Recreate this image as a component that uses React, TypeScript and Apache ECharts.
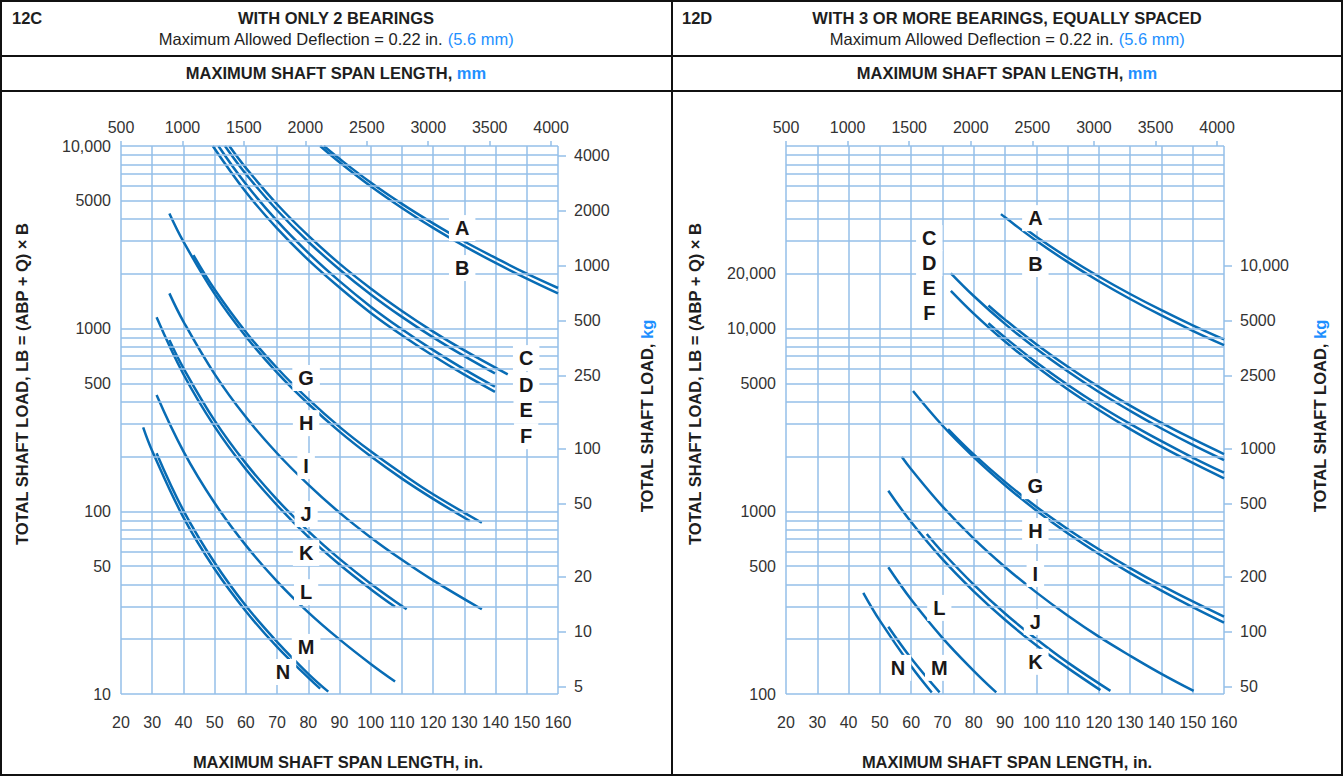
import React, { useEffect, useRef } from 'react';
import * as echarts from 'echarts';

// ---------- tick labels ----------
const MM_TICKS = [500, 1000, 1500, 2000, 2500, 3000, 3500, 4000];
const LB_LABELS_12C = [10, 50, 100, 500, 1000, 5000, 10000];
const KG_LABELS_12C = [5, 10, 20, 50, 100, 250, 500, 1000, 2000, 4000];
const LB_LABELS_12D = [100, 500, 1000, 5000, 10000, 20000];
const KG_LABELS_12D = [50, 100, 200, 500, 1000, 2500, 5000, 10000];

// ---------- 12C curves: [span in., total shaft load lb] ----------
const C12_A = [[85, 10000], [90, 8510], [100, 6310], [110, 4820], [120, 3770], [130, 3000], [140, 2440], [150, 2000], [160, 1670]];
const C12_B = [[83.8, 10000], [90, 8150], [100, 6020], [110, 4580], [120, 3560], [130, 2830], [140, 2290], [150, 1880], [160, 1560]];
const C12_C = [[54.7, 10000], [60, 7590], [70, 4800], [80, 3230], [90, 2270], [100, 1660], [110, 1250], [120, 964], [130, 760], [143.9, 562]];
const C12_D = [[53.3, 10000], [60, 7030], [70, 4450], [80, 2990], [90, 2110], [100, 1540], [110, 1160], [120, 896], [130, 707], [139.8, 569]];
const C12_E = [[51.2, 10000], [60, 6190], [70, 3890], [80, 2600], [90, 1820], [100, 1320], [110, 992], [120, 763], [130, 599], [139.8, 481]];
const C12_F = [[49.4, 10000], [60, 5600], [70, 3540], [80, 2380], [90, 1680], [100, 1220], [110, 921], [120, 711], [130, 560], [139.8, 451]];
const C12_G = [[43.2, 2528], [50, 1640], [60, 959], [70, 609], [80, 411], [90, 290], [100, 213], [110, 161], [120, 124], [135.6, 86.6]];
const C12_H = [[35.5, 4276], [40, 3000], [50, 1550], [60, 906], [70, 575], [80, 388], [90, 273], [100, 200], [110, 151], [120, 117], [131.8, 88.5]];
const C12_I = [[35.5, 1560], [40, 1094], [50, 564], [60, 328], [70, 208], [80, 140], [90, 98.4], [100, 72], [110, 54.3], [120, 41.9], [135.6, 29.1]];
const C12_J = [[31.4, 1153], [40, 563], [50, 291], [60, 170], [70, 108], [80, 72.5], [90, 51.2], [100, 37.5], [107.8, 30]];
const C12_K = [[35.5, 866], [40, 608], [50, 314], [60, 183], [70, 116], [80, 77.9], [90, 54.9], [100, 40.2], [111.5, 29.1]];
const C12_L = [[31.4, 433], [40, 213], [50, 111], [60, 65.1], [70, 41.4], [80, 28], [90, 19.9], [100, 14.6], [107.8, 11.7]];
const C12_M = [[31.4, 208], [40, 101], [50, 52.3], [60, 30.4], [70, 19.3], [80, 12.9], [86.4, 10.3]];
const C12_N = [[27.1, 288], [30, 214], [40, 92.6], [50, 48.3], [60, 28.4], [70, 18.1], [80, 12.3], [83.8, 10.7]];

// ---------- 12D curves ----------
const D12_A = [[96.6, 35080], [100, 31890], [110, 24530], [120, 19300], [130, 15480], [140, 12620], [150, 10430], [160, 8738]];
const D12_B = [[88.7, 42360], [90, 40680], [100, 30290], [110, 23200], [120, 18190], [130, 14540], [140, 11810], [150, 9740], [160, 8128]];
const D12_C = [[84.7, 13400], [90, 11210], [100, 8220], [110, 6210], [120, 4800], [130, 3790], [140, 3050], [150, 2490], [160, 2059]];
const D12_D = [[72.7, 20080], [80, 15090], [90, 10620], [100, 7760], [110, 5840], [120, 4500], [130, 3550], [140, 2840], [150, 2310], [160, 1909]];
const D12_E = [[84.7, 10700], [90, 8940], [100, 6540], [110, 4930], [120, 3810], [130, 3010], [140, 2420], [150, 1970], [160, 1627]];
const D12_F = [[72.7, 16120], [80, 12100], [90, 8500], [100, 6200], [110, 4660], [120, 3590], [130, 2820], [140, 2260], [150, 1840], [160, 1516]];
const D12_G = [[71.8, 2822], [80, 2050], [90, 1450], [100, 1060], [110, 801], [120, 620], [130, 489], [140, 393], [150, 321], [160, 265]];
const D12_H = [[60.6, 4556], [70, 2950], [80, 1980], [90, 1390], [100, 1011], [110, 759], [120, 584], [130, 459], [140, 368], [150, 299], [160, 246]];
const D12_I = [[57, 1990], [60, 1700], [70, 1065], [80, 709], [90, 496], [100, 360], [110, 269], [120, 206], [130, 162], [140, 129], [150.3, 104]];
const D12_J = [[52.7, 1297], [60, 874], [70, 547], [80, 365], [90, 255], [100, 185], [110, 139], [120.5, 105]];
const D12_K = [[65, 751], [70, 598], [80, 397], [90, 276], [100, 200], [110, 149], [123.7, 104]];
const D12_L = [[52.7, 494], [60, 329], [70, 203], [80, 134], [87.2, 102]];
const D12_M = [[52.7, 233.6], [60, 157], [69.1, 102]];
const D12_N = [[44.7, 358], [50, 252], [60, 142], [66.6, 102]];

// ---------- curve letters: [letter, span in., load lb] ----------
const LABELS_12C = [
  ['A', 129.3, 3554], ['B', 129.3, 2147],
  ['C', 149.8, 690], ['D', 149.8, 491], ['E', 149.8, 358], ['F', 149.8, 258],
  ['G', 79.3, 537], ['H', 79.3, 304], ['I', 79.3, 177], ['J', 79.3, 96.6],
  ['K', 79.3, 59.2], ['L', 79.3, 36.1], ['M', 79.3, 18.1], ['N', 71.9, 13.2],
];
const LABELS_12D = [
  ['A', 99.7, 40270], ['B', 99.7, 22590],
  ['C', 65.8, 31330], ['D', 65.8, 22860], ['E', 65.8, 16670], ['F', 65.8, 12160],
  ['G', 99.7, 1374], ['H', 99.7, 780], ['I', 99.7, 454], ['J', 99.7, 248], ['K', 99.7, 150],
  ['L', 69, 296], ['M', 69, 139], ['N', 55.8, 139],
];

const CURVES_12C = [C12_A, C12_B, C12_C, C12_D, C12_E, C12_F, C12_G, C12_H, C12_I, C12_J, C12_K, C12_L, C12_M, C12_N];
const CURVES_12D = [D12_A, D12_B, D12_C, D12_D, D12_E, D12_F, D12_G, D12_H, D12_I, D12_J, D12_K, D12_L, D12_M, D12_N];

// ---------- styles ----------
const FONT = '"Liberation Sans", Arial, Helvetica, sans-serif';
const GRID_COLOR = '#95bfe8';
const CURVE_COLOR = '#086cb5';
const TEXT = '#1e1e1e';
const TICK_TEXT = '#333333';
const BLUE = '#1e90ff';
const KG_PER_LB = 0.45359237;

const lg = (v: number) => Math.log10(v);
const fmt = (v: number) => {
  const n = Math.round(Math.pow(10, v));
  return n >= 10000 ? String(n).replace(/\B(?=(\d{3})+(?!\d))/g, ',') : String(n);
};
const logGrid = (lo: number, hi: number) => {
  const out: number[] = [];
  for (let d = lo; d < hi; d *= 10) for (let k = 1; k < 10; k++) out.push(k * d);
  out.push(hi);
  return out;
};

function buildPanel(i: number, lbMin: number, lbMax: number, lbLabels: number[], kgLabels: number[], curves: number[][][], labels: any[]) {
  const xAxes = [
    {
      gridIndex: i, type: 'value', position: 'bottom', min: 20, max: 160, interval: 10,
      axisLine: { show: false }, axisTick: { show: false },
      axisLabel: { color: TICK_TEXT, fontSize: 16, fontFamily: FONT, margin: 20, formatter: (v: number) => String(v) },
      splitLine: { show: true, lineStyle: { color: GRID_COLOR, width: 1.5 } },
    },
    {
      gridIndex: i, type: 'value', position: 'top', min: 500, max: 500 + 140 * 25.4,
      axisLine: { show: false },
      axisTick: { show: true, customValues: MM_TICKS, length: 5, lineStyle: { color: GRID_COLOR, width: 1.5 } },
      axisLabel: { customValues: MM_TICKS, color: TICK_TEXT, fontSize: 16, fontFamily: FONT, margin: 11, formatter: (v: number) => String(Math.round(v)) },
      splitLine: { show: false },
    },
  ];
  const kgCustom = kgLabels.map(lg);
  const yAxes = [
    {
      gridIndex: i, type: 'value', position: 'left', min: lg(lbMin), max: lg(lbMax),
      axisLine: { show: false }, axisTick: { show: false }, splitLine: { show: false },
      axisLabel: { customValues: lbLabels.map(lg), formatter: fmt, color: TICK_TEXT, fontSize: 16, fontFamily: FONT, margin: 10 },
    },
    {
      gridIndex: i, type: 'value', position: 'right', min: lg(lbMin * KG_PER_LB), max: lg(lbMax * KG_PER_LB),
      axisLine: { show: false }, splitLine: { show: false },
      axisTick: { show: true, customValues: kgCustom, length: 8, lineStyle: { color: GRID_COLOR, width: 1.5 } },
      axisLabel: { customValues: kgCustom, formatter: fmt, color: TICK_TEXT, fontSize: 16, fontFamily: FONT, margin: 16 },
    },
  ];
  const xi = 2 * i, yi = 2 * i;
  const series: any[] = [
    {
      type: 'line', xAxisIndex: xi, yAxisIndex: yi, z: 1, silent: true,
      data: [[20, lg(lbMin)]], showSymbol: false, symbol: 'none', lineStyle: { width: 0 },
      markLine: {
        silent: true, symbol: ['none', 'none'], label: { show: false },
        lineStyle: { color: GRID_COLOR, width: 1.5, type: 'solid' },
        data: logGrid(lbMin, lbMax).map((v) => ({ yAxis: lg(v) })),
      },
    },
    ...curves.map((c) => ({
      type: 'line', xAxisIndex: xi, yAxisIndex: yi, z: 3, silent: true,
      smooth: 0.4, showSymbol: false, symbol: 'none',
      lineStyle: { color: CURVE_COLOR, width: 2.5 },
      data: c.map(([x, lb]) => [x, lg(lb)]),
    })),
    {
      type: 'scatter', xAxisIndex: xi, yAxisIndex: yi, z: 5, silent: true,
      symbolSize: 0, itemStyle: { color: 'transparent', opacity: 1 },
      data: labels.map(([t, x, lb]) => ({ name: t, value: [x, lg(lb)] })),
      label: {
        show: true, position: 'inside', formatter: '{b}', color: '#1a1718', fontSize: 20, opacity: 1,
        fontWeight: 'bold', fontFamily: FONT, backgroundColor: '#ffffff', padding: [3, 6],
      },
    },
  ];
  return { xAxes, yAxes, series };
}

function txt(x: number, y: number, text: string, opts: any = {}) {
  return {
    type: 'text', x, y, rotation: opts.rotation || 0, z: 20,
    style: {
      text, fill: TEXT, fontSize: opts.size || 16.5, fontWeight: opts.bold ? 'bold' : 'normal',
      fontFamily: FONT, align: opts.align || 'center', verticalAlign: 'middle',
      rich: opts.rich,
    },
  };
}

function richBlue(size: number, bold: boolean) {
  const base = { fontSize: size, fontWeight: bold ? 'bold' : 'normal', fontFamily: FONT };
  return { a: { ...base, fill: TEXT }, b: { ...base, fill: BLUE } };
}

function buildOption() {
  const p0 = buildPanel(0, 10, 10000, LB_LABELS_12C, KG_LABELS_12C, CURVES_12C, LABELS_12C);
  const p1 = buildPanel(1, 100, 100000, LB_LABELS_12D, KG_LABELS_12D, CURVES_12D, LABELS_12D);
  const frame = { stroke: '#111', lineWidth: 2 };
  const graphic: any[] = [
    { type: 'rect', z: 20, shape: { x: 1, y: 1, width: 1341, height: 774 }, style: { fill: 'none', ...frame } },
    { type: 'line', z: 20, shape: { x1: 672, y1: 0, x2: 672, y2: 776 }, style: frame },
    { type: 'line', z: 20, shape: { x1: 0, y1: 56, x2: 1343, y2: 56 }, style: frame },
    { type: 'line', z: 20, shape: { x1: 0, y1: 91, x2: 1343, y2: 91 }, style: frame },
    txt(12, 18, '12C', { bold: true, align: 'left' }),
    txt(336, 18, 'WITH ONLY 2 BEARINGS', { bold: true }),
    txt(336, 39, '{a|Maximum Allowed Deflection = 0.22 in. }{b|(5.6 mm)}', { rich: richBlue(16.5, false) }),
    txt(336, 73, '{a|MAXIMUM SHAFT SPAN LENGTH, }{b|mm}', { rich: richBlue(16.5, true) }),
    txt(682, 18, '12D', { bold: true, align: 'left' }),
    txt(1007, 18, 'WITH 3 OR MORE BEARINGS, EQUALLY SPACED', { bold: true }),
    txt(1007, 39, '{a|Maximum Allowed Deflection = 0.22 in. }{b|(5.6 mm)}', { rich: richBlue(16.5, false) }),
    txt(1007, 73, '{a|MAXIMUM SHAFT SPAN LENGTH, }{b|mm}', { rich: richBlue(16.5, true) }),
    txt(338, 762, 'MAXIMUM SHAFT SPAN LENGTH, in.', { bold: true }),
    txt(1007, 762, 'MAXIMUM SHAFT SPAN LENGTH, in.', { bold: true }),
    txt(22, 384, 'TOTAL SHAFT LOAD, LB = (ABP + Q) × B', { bold: true, rotation: Math.PI / 2 }),
    txt(695, 384, 'TOTAL SHAFT LOAD, LB = (ABP + Q) × B', { bold: true, rotation: Math.PI / 2 }),
    txt(647, 416, '{a|TOTAL SHAFT LOAD, }{b|kg}', { rotation: Math.PI / 2, rich: richBlue(16.5, true) }),
    txt(1320, 416, '{a|TOTAL SHAFT LOAD, }{b|kg}', { rotation: Math.PI / 2, rich: richBlue(16.5, true) }),
  ];
  return {
    animation: false,
    backgroundColor: '#ffffff',
    grid: [
      { left: 121, top: 146, width: 437, height: 548 },
      { left: 786, top: 146, width: 438, height: 548 },
    ],
    xAxis: [...p0.xAxes, ...p1.xAxes],
    yAxis: [...p0.yAxes, ...p1.yAxes],
    series: [...p0.series, ...p1.series],
    graphic,
  };
}

export default function App() {
  const ref = useRef<HTMLDivElement>(null);
  useEffect(() => {
    document.body.style.margin = '0';
    const chart = echarts.init(ref.current as HTMLDivElement, null, { renderer: 'svg' });
    chart.setOption(buildOption() as any);
    return () => chart.dispose();
  }, []);
  return <div ref={ref} style={{ width: 1343, height: 776, background: '#fff' }} />;
}
